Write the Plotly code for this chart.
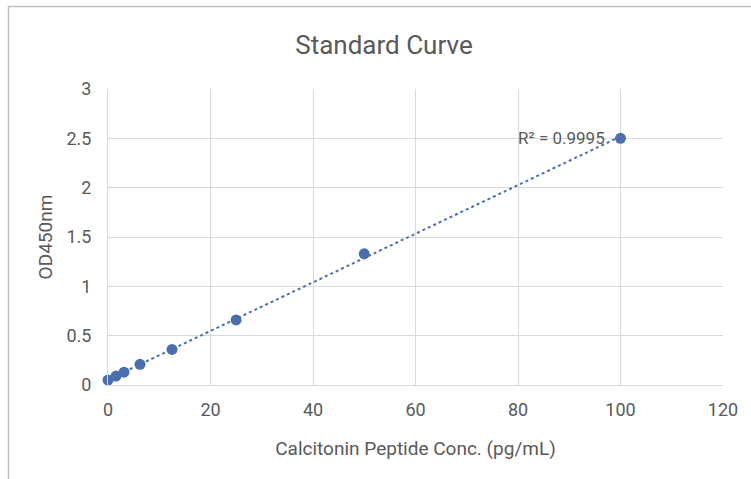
import numpy as np
import plotly.graph_objects as go

conc = [0, 1.5625, 3.125, 6.25, 12.5, 25, 50, 100]
od450 = [0.05, 0.09, 0.13, 0.21, 0.36, 0.66, 1.33, 2.50]
x_ticks = [0, 20, 40, 60, 80, 100, 120]
y_ticks = [0, 0.5, 1, 1.5, 2, 2.5, 3]
r2_label = "R² = 0.9995"

color = "#4A6FAE"
gray = "#595959"
grid = "#D9D9D9"
font = "Roboto, sans-serif"

slope, intercept = np.polyfit(conc, od450, 1)
tx = [min(conc), max(conc)]
ty = [slope * v + intercept for v in tx]

fig = go.Figure()
fig.add_trace(go.Scatter(x=tx, y=ty, mode="lines",
                         line=dict(color=color, width=2, dash="dot"),
                         hoverinfo="skip", showlegend=False, cliponaxis=False))
fig.add_trace(go.Scatter(x=conc, y=od450, mode="markers",
                         marker=dict(color=color, size=11),
                         showlegend=False, cliponaxis=False))

fig.add_annotation(x=conc[-1], y=od450[-1], xref="x", yref="y",
                   text=r2_label, showarrow=False, xanchor="right",
                   xshift=-14, yanchor="middle",
                   font=dict(family=font, size=17, color=gray))

L, R, T, B = 108, 28, 89, 94
W, H = 751, 479
pw, ph = W - L - R, H - T - B
bx = (8.5 - L) / pw
by = 1 + (T - 6.5) / ph
fig.add_shape(type="path", xref="paper", yref="paper",
              path=f"M {bx},{-B/ph - 0.01} L {bx},{by} L {(W - L)/pw + 0.01},{by}",
              line=dict(color="#BFBFBF", width=1.5))

fig.update_layout(
    width=W, height=H,
    margin=dict(l=L, r=R, t=T, b=B),
    paper_bgcolor="white", plot_bgcolor="white",
    font=dict(family=font, color=gray, size=18),
    title=dict(text="Standard Curve", x=(384 - L) / pw, xref="paper", xanchor="center",
               y=1 - 45 / H, yref="container", yanchor="middle",
               font=dict(family=font, size=26, color=gray)),
)
fig.update_xaxes(range=[0, 120], tickvals=x_ticks, showgrid=True, gridcolor=grid,
                 gridwidth=1, zeroline=False, showline=True, linecolor=grid,
                 ticks="", ticklabelstandoff=8, tickfont=dict(size=18, color=gray),
                 title=dict(text="Calcitonin Peptide Conc. (pg/mL)", standoff=23,
                            font=dict(size=19, color=gray)))
fig.update_yaxes(range=[0, 3], tickvals=y_ticks, showgrid=True, gridcolor=grid,
                 gridwidth=1, zeroline=False, showline=True, linecolor=grid,
                 ticks="", ticklabelstandoff=12, tickfont=dict(size=18, color=gray),
                 title=dict(text="OD450nm", standoff=8,
                            font=dict(size=19, color=gray)))

fig.write_html("out.html", config={"displayModeBar": False},
               post_script="document.body.style.margin='0';")
